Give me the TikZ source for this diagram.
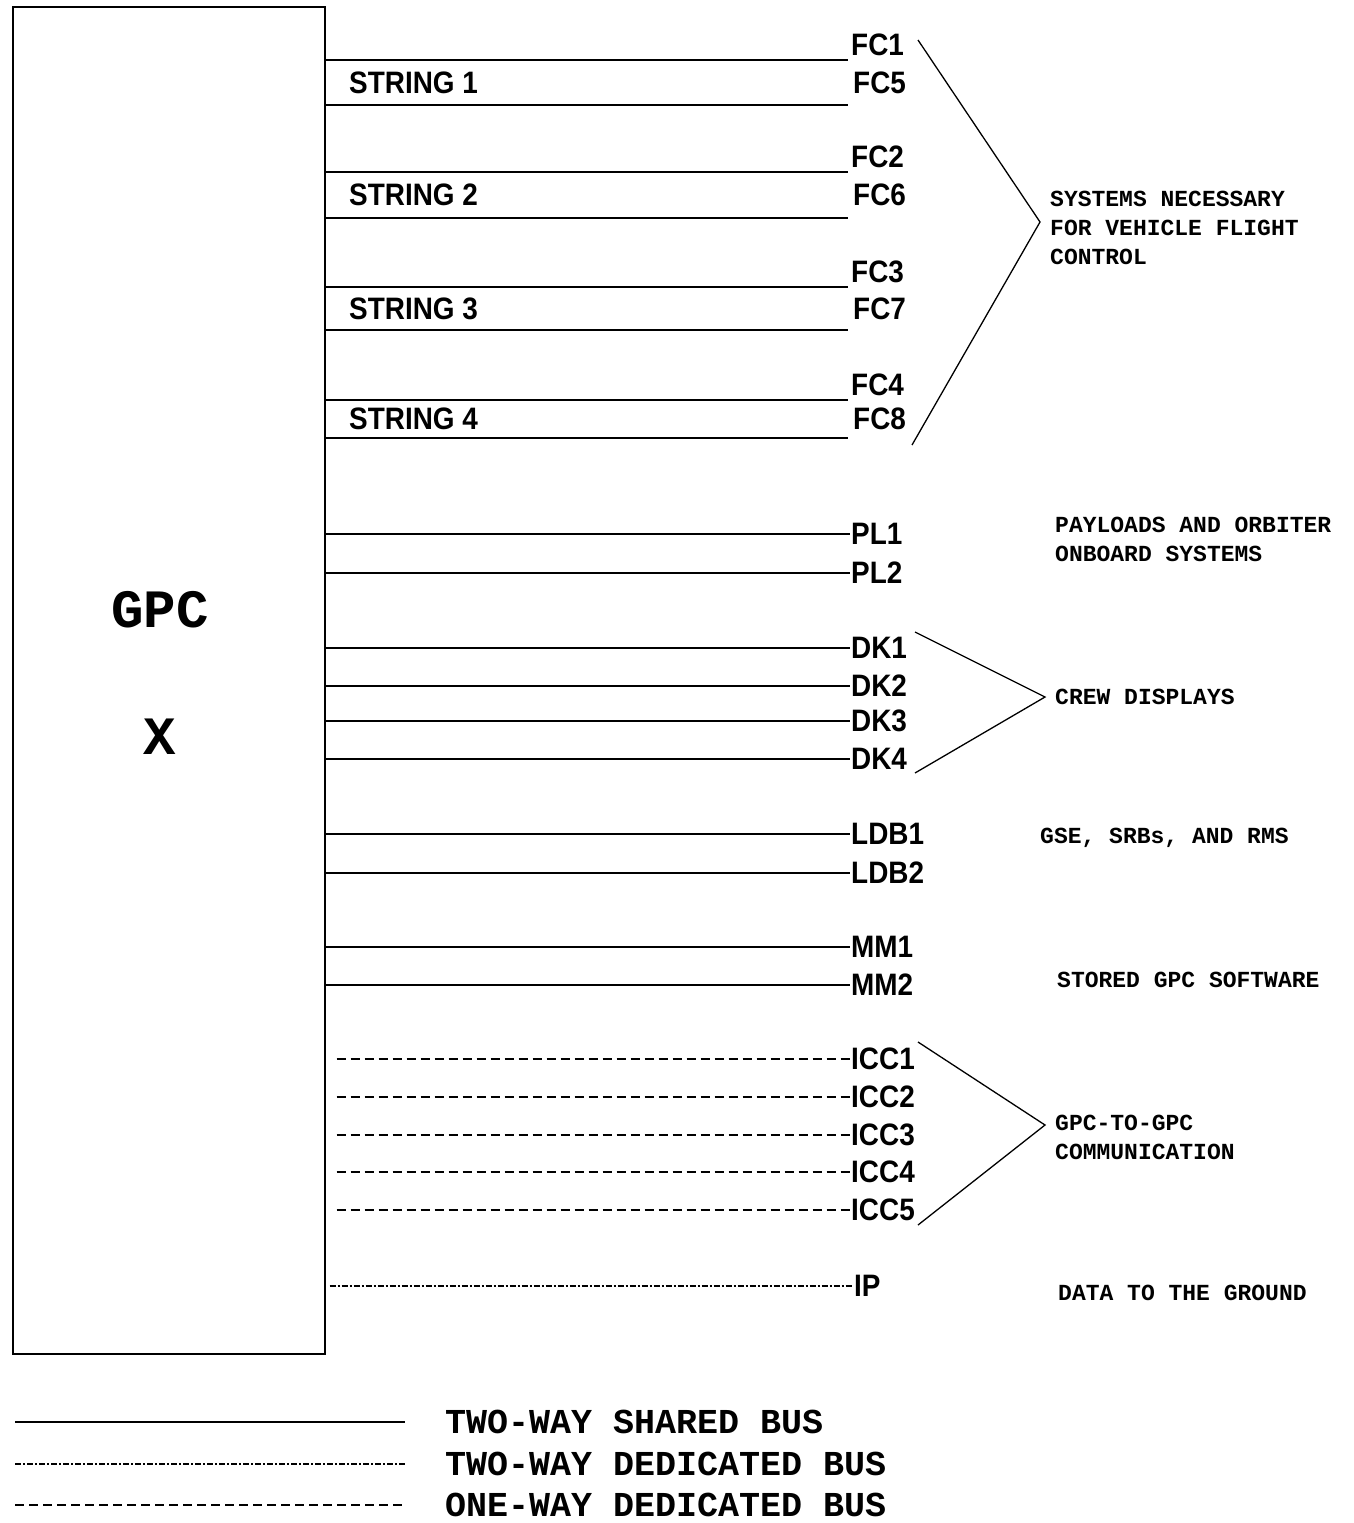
\documentclass[tikz,border=0pt]{standalone}
\usepackage{fontspec}
\newfontfamily\lblfont[FakeStretch=0.9]{Liberation Sans}
\newfontfamily\typfont{Liberation Mono}
\usetikzlibrary{positioning,calc}

\begin{document}
\begin{tikzpicture}[x=1pt,y=-1pt,bus/.style={line width=1.6pt},dedbus/.style={line width=1.5pt,dash pattern=on 6pt off 2pt on 2pt off 2pt},oneway/.style={line width=2pt,dash pattern=on 9pt off 5pt},lbl/.style={font=\lblfont\bfseries\fontsize{31}{31}\selectfont,inner sep=1pt,anchor=west},note/.style={font=\typfont\bfseries\fontsize{23}{29}\selectfont,align=left,anchor=west,inner sep=0pt},key/.style={font=\typfont\bfseries\fontsize{35}{35}\selectfont,anchor=west,inner sep=0pt},brace/.style={line width=1.3pt}]
\useasboundingbox (0,0) rectangle (1354,1523);
\node[draw,line width=1.6pt,minimum width=312pt,minimum height=1347pt,anchor=north west,inner sep=0pt] (gpc) at (12,6) {};
\node[font=\typfont\bfseries\fontsize{54}{54}\selectfont] (gpcname) at (160,610) {GPC};
\node[font=\typfont\bfseries\fontsize{54}{54}\selectfont] (gpcx) at (160,737) {X};
% flight control strings
\foreach \n/\ya/\yb/\up/\dn in {1/60/105/1/5,2/172/218/2/6,3/287/330/3/7,4/400/438/4/8}{
  \coordinate (s\n a) at (848,\ya);\coordinate (s\n b) at (848,\yb);
  \draw[bus] (gpc.east |- s\n a) -- (s\n a);\draw[bus] (gpc.east |- s\n b) -- (s\n b);
  \node[lbl] (fc\up) at (850,\ya-15) {FC\up};\node[lbl] (fc\dn) at (852,{(\ya+\yb)/2}) {FC\dn};
  \node[lbl] (str\n) at (348,{(\ya+\yb)/2}) {STRING \n};}
% shared buses
\foreach \nm/\y in {PL1/534,PL2/573,DK1/648,DK2/686,DK3/721,DK4/759,LDB1/834,LDB2/873,MM1/947,MM2/985}{
  \node[lbl] (\nm) at (850,\y) {\nm};\draw[bus] (gpc.east |- \nm.west) -- (\nm.west);}
\foreach \nm/\y in {ICC1/1059,ICC2/1097,ICC3/1135,ICC4/1172,ICC5/1210}{
  \node[lbl] (\nm) at (850,\y) {\nm};\draw[oneway] (gpc.east |- \nm.west) ++(11,0) -- (\nm.west);}
\node[lbl] (IP) at (853,1286) {IP};\draw[dedbus] (gpc.east |- IP.west) ++(4,0) -- (IP.west);
% groupings
\coordinate (fctop) at (918,40);\coordinate (fctip) at (1040,222);\coordinate (fcbot) at (912,445);
\draw[brace] (fctop) -- (fctip) -- (fcbot);
\coordinate (dktop) at (915,632);\coordinate (dktip) at (1045,697);\coordinate (dkbot) at (915,773);
\draw[brace] (dktop) -- (dktip) -- (dkbot);
\coordinate (icctop) at (918,1042);\coordinate (icctip) at (1045,1125);\coordinate (iccbot) at (918,1225);
\draw[brace] (icctop) -- (icctip) -- (iccbot);
\node[note] (fcnote) at (1050,228) {SYSTEMS NECESSARY\\FOR VEHICLE FLIGHT\\CONTROL};
\node[note] (plnote) at (1055,539) {PAYLOADS AND ORBITER\\ONBOARD SYSTEMS};
\node[note] (dknote) at (1055,697) {CREW DISPLAYS};
\node[note] (ldbnote) at (1040,838) {GSE, SRBs, AND RMS};
\node[note] (mmnote) at (1057,980) {STORED GPC SOFTWARE};
\node[note] (iccnote) at (1055,1137) {GPC-TO-GPC\\COMMUNICATION};
\node[note] (ipnote) at (1058,1293) {DATA TO THE GROUND};
% legend
\node[key] (k1) at (445,1422) {TWO-WAY SHARED BUS};
\node[key] (k2) at (445,1464) {TWO-WAY DEDICATED BUS};
\node[key] (k3) at (445,1505) {ONE-WAY DEDICATED BUS};
\coordinate (k1a) at (15,1422);\coordinate (k1b) at (405,1422);\draw[bus] (k1a) -- (k1b);
\coordinate (k2a) at (15,1464);\coordinate (k2b) at (405,1464);\draw[dedbus] (k2a) -- (k2b);
\coordinate (k3a) at (15,1505);\coordinate (k3b) at (405,1505);\draw[oneway] (k3a) -- (k3b);
\end{tikzpicture}
\end{document}
